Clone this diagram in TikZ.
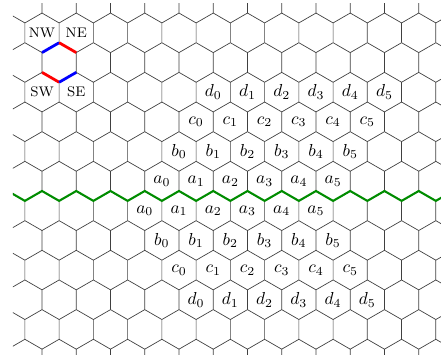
\documentclass[tikz,border=0pt]{standalone}
\begin{document}
\begin{tikzpicture}[
  hexline/.style={line width=0.4pt, black!75},
  cut/.style={line width=1.2pt, green!55!black, line join=miter},
  redseg/.style={line width=1.6pt, red},
  blueseg/.style={line width=1.6pt, blue},
  lab/.style={inner sep=0pt},
  dirlab/.style={inner sep=0pt, font=\footnotesize},
]
\def\W{0.69282}
\def\H{0.6}
\def\ox{0.850}
\def\oy{-0.664}
\useasboundingbox (0,0) rectangle (8.922,-7.162);
\begin{scope}
\clip (0.263,-0.061) rectangle (8.922,-7.162);
\foreach \r in {-1,...,11} {
  \foreach \j in {-2,...,13} {
    \pgfmathsetmacro\cx{\ox + \W*(\j + 0.5*mod(\r+2,2))}
    \pgfmathsetmacro\cy{\oy - \H*\r}
    \draw[hexline] ({\cx-\W/2},{\cy-0.2}) -- ({\cx-\W/2},{\cy+0.2}) -- ({\cx},{\cy+0.4}) -- ({\cx+\W/2},{\cy+0.2});
  }
}
\draw[cut] ({\ox-\W},-3.864) \foreach \j in {-1,...,12} { -- ({\ox+\W*(\j+0.5)},-4.064) -- ({\ox+\W*(\j+1)},-3.864) };
\end{scope}
% coloured hexagon (row 1, column 0)
\coordinate (ht) at ({\ox+\W/2},-0.864);
\coordinate (htl) at ({\ox},-1.064);
\coordinate (htr) at ({\ox+\W},-1.064);
\coordinate (hbl) at ({\ox},-1.464);
\coordinate (hbr) at ({\ox+\W},-1.464);
\coordinate (hb) at ({\ox+\W/2},-1.664);
\draw[blueseg] (htl) -- (ht);
\draw[redseg] (ht) -- (htr);
\draw[redseg] (hbl) -- (hb);
\draw[blueseg] (hb) -- (hbr);
% direction labels
\node[dirlab] (nw) at ({\ox},{\oy}) {NW};
\node[dirlab] (ne) at ({\ox+\W},{\oy}) {NE};
\node[dirlab] (sw) at ({\ox},{\oy-2*\H}) {SW};
\node[dirlab] (se) at ({\ox+\W},{\oy-2*\H}) {SE};
% labels above and below the cut
\foreach \i in {0,...,5} {
  \node[lab] (ud\i) at ({\ox+\W*(5+\i)},{\oy-2*\H}) {$d_{\i}$};
  \node[lab] (uc\i) at ({\ox+\W*(4.5+\i)},{\oy-3*\H}) {$c_{\i}$};
  \node[lab] (ub\i) at ({\ox+\W*(4+\i)},{\oy-4*\H}) {$b_{\i}$};
  \node[lab] (ua\i) at ({\ox+\W*(3.5+\i)},{\oy-5*\H}) {$a_{\i}$};
  \node[lab] (la\i) at ({\ox+\W*(3+\i)},{\oy-6*\H}) {$a_{\i}$};
  \node[lab] (lb\i) at ({\ox+\W*(3.5+\i)},{\oy-7*\H}) {$b_{\i}$};
  \node[lab] (lc\i) at ({\ox+\W*(4+\i)},{\oy-8*\H}) {$c_{\i}$};
  \node[lab] (ld\i) at ({\ox+\W*(4.5+\i)},{\oy-9*\H}) {$d_{\i}$};
}
\end{tikzpicture}
\end{document}
